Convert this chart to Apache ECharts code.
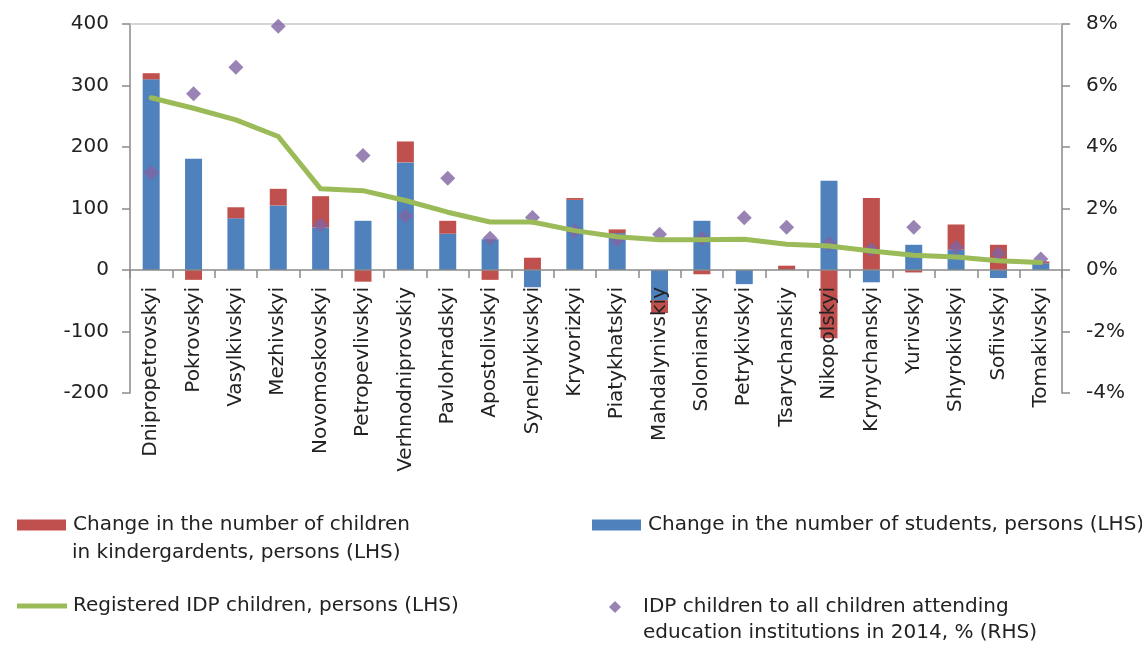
<!DOCTYPE html>
<html>
<head>
<meta charset="utf-8">
<script src="https://cdn.jsdelivr.net/npm/echarts@6/dist/echarts.min.js"></script>
<style>
  html, body { margin: 0; padding: 0; background: #fff; }
  #chart { width: 1142px; height: 646px; }
</style>
</head>
<body>
<div id="chart"></div>
<script>
// Districts of Dnipropetrovsk oblast
const districts = [
  'Dnipropetrovskyi', 'Pokrovskyi', 'Vasylkivskyi', 'Mezhivskyi', 'Novomoskovskyi',
  'Petropevlivskyi', 'Verhnodniprovskiy', 'Pavlohradskyi', 'Apostolivskyi', 'Synelnykivskyi',
  'Kryvorizkyi', 'Piatykhatskyi', 'Mahdalynivskiy', 'Solonianskyi', 'Petrykivskyi',
  'Tsarychanskiy', 'Nikopolskyi', 'Krynychanskyi', 'Yurivskyi', 'Shyrokivskyi',
  'Sofiivskyi', 'Tomakivskyi'
];

// Change in the number of students, persons (LHS)
const studentsChange = [310, 181, 84, 105, 69, 80, 175, 59, 50, -28, 114, 60, -49, 80, -23, 0, 145, -20, 41, 33, -13, 11];

// Change in the number of children in kindergardents, persons (LHS)
const kindergartenChange = [10, -16, 18, 27, 51, -19, 34, 21, -16, 20, 3, 6, -21, -7, 0, 7, -111, 117, -4, 41, 41, 3];

// Registered IDP children, persons (LHS)
const idpChildren = [280, 263, 244, 217, 132, 129, 113, 94, 78, 78, 64, 54, 49, 49, 50, 42, 39, 31, 24, 21, 15, 12];

// IDP children to all children attending education institutions in 2014, % (RHS)
const idpShare = [3.16, 5.73, 6.59, 7.93, 1.46, 3.72, 1.76, 2.98, 1.03, 1.71, 1.27, 0.98, 1.16, 1.03, 1.70, 1.39, 0.85, 0.67, 1.39, 0.74, 0.54, 0.36];

// Axis ticks
const leftTicks = { min: -200, max: 400, step: 100 };
const rightTicks = { min: -4, max: 8, step: 2 };

const names = {
  kinder: 'Change in the number of children',
  students: 'Change in the number of students, persons (LHS)',
  idp: 'Registered IDP children, persons (LHS)',
  share: 'IDP children to all children attending'
};

const FONT = 'DejaVu Sans';
const TXT = '#222222';
const AXIS = '#8a8a8a';

// plot area
const GRID = { left: 130, right: 80, top: 24, bottom: 253 };
const PLOT_H = 646 - GRID.top - GRID.bottom;
// the category axis sits on the zero line of the left value axis
const zeroOffset = -PLOT_H * (0 - leftTicks.min) / (leftTicks.max - leftTicks.min);

const chart = echarts.init(document.getElementById('chart'), null, { renderer: 'canvas' });

const legendText = { fontFamily: FONT, fontSize: 20, color: TXT };

chart.setOption({
  animation: false,
  backgroundColor: '#ffffff',
  grid: Object.assign({ containLabel: false }, GRID),
  xAxis: [
    {
      type: 'category',
      data: districts,
      z: 10,
      position: 'bottom',
      offset: zeroOffset,
      boundaryGap: true,
      axisLine: { onZero: false, lineStyle: { color: AXIS, width: 1.5 } },
      axisTick: { show: true, length: 8, lineStyle: { color: AXIS, width: 1.5 } },
      axisLabel: {
        rotate: 90, interval: 0, margin: 17,
        fontFamily: FONT, fontSize: 20, color: TXT
      },
      splitLine: { show: false }
    },
    {
      type: 'category',
      data: districts,
      position: 'top',
      axisLine: { show: true, onZero: false, lineStyle: { color: '#c8c8c8', width: 1.5 } },
      axisTick: { show: false },
      axisLabel: { show: false },
      splitLine: { show: false }
    }
  ],
  yAxis: [
    {
      type: 'value',
      min: leftTicks.min, max: leftTicks.max, interval: leftTicks.step,
      axisLine: { show: true, lineStyle: { color: AXIS, width: 1.5 } },
      axisTick: { show: true, length: 8, lineStyle: { color: AXIS, width: 1.5 } },
      axisLabel: { margin: 21, fontFamily: FONT, fontSize: 20, color: TXT },
      splitLine: { show: false }
    },
    {
      type: 'value',
      position: 'right',
      min: rightTicks.min, max: rightTicks.max, interval: rightTicks.step,
      axisLine: { show: true, lineStyle: { color: AXIS, width: 1.5 } },
      axisTick: { show: true, length: 8, lineStyle: { color: AXIS, width: 1.5 } },
      axisLabel: { margin: 24, fontFamily: FONT, fontSize: 20, color: TXT, formatter: '{value}%' },
      splitLine: { show: false }
    }
  ],
  legend: [
    {
      left: 12, top: 510, itemWidth: 49, itemHeight: 11, itemGap: 0,
      icon: 'rect', selectedMode: false,
      data: [names.kinder], textStyle: Object.assign({ padding: [0, 0, 0, 2] }, legendText)
    },
    {
      left: 587, top: 510, itemWidth: 49, itemHeight: 11, itemGap: 0,
      icon: 'rect', selectedMode: false,
      data: [names.students], textStyle: Object.assign({ padding: [0, 0, 0, 2] }, legendText)
    },
    {
      left: 12, top: 591, itemWidth: 50, itemHeight: 5, itemGap: 0,
      icon: 'rect', selectedMode: false,
      data: [names.idp], textStyle: Object.assign({ padding: [0, 0, 0, 1] }, legendText)
    },
    {
      left: 604, top: 592, itemWidth: 12, itemHeight: 12, itemGap: 0,
      icon: 'diamond', selectedMode: false,
      data: [names.share], textStyle: Object.assign({ padding: [0, 0, 0, 17] }, legendText)
    }
  ],
  graphic: [
    {
      type: 'text', left: 72, top: 543,
      style: { text: 'in kindergardents, persons (LHS)', font: '20px "' + FONT + '"', fill: TXT }
    },
    {
      type: 'text', left: 643, top: 623,
      style: { text: 'education institutions in 2014, % (RHS)', font: '20px "' + FONT + '"', fill: TXT }
    }
  ],
  series: [
    {
      name: names.students,
      type: 'bar',
      stack: 'change',
      barWidth: 17,
      data: studentsChange,
      itemStyle: { color: '#4F81BD' }
    },
    {
      name: names.kinder,
      type: 'bar',
      stack: 'change',
      barWidth: 17,
      data: kindergartenChange,
      itemStyle: { color: '#C0504D' }
    },
    {
      name: names.idp,
      type: 'line',
      data: idpChildren,
      symbol: 'none',
      smooth: false,
      lineStyle: { color: '#9BBB59', width: 5, join: 'round', cap: 'round' },
      itemStyle: { color: '#9BBB59' }
    },
    {
      name: names.share,
      type: 'scatter',
      yAxisIndex: 1,
      data: idpShare,
      symbol: 'diamond',
      symbolSize: 15,
      itemStyle: { color: '#8064A2' }
    }
  ]
});
</script>
</body>
</html>
